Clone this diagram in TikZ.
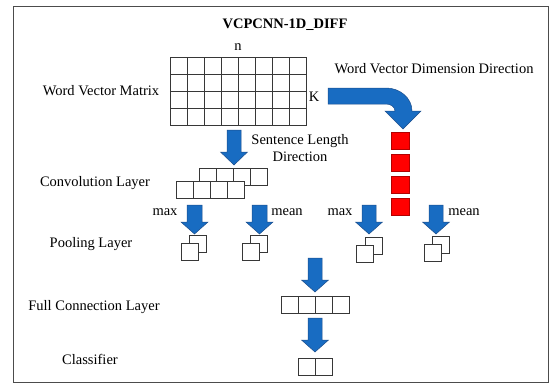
\documentclass[tikz,border=0pt]{standalone}
\usepackage{fontspec}
\setmainfont{Liberation Serif}
\usepackage{tikz}

\definecolor{arrowblue}{RGB}{24,108,194}
\definecolor{arrowedge}{RGB}{28,78,140}
\definecolor{cellgray}{RGB}{55,55,55}

\begin{document}
\begin{tikzpicture}[x=1pt, y=-1pt, every node/.style={font=\fontsize{14.5}{17}\selectfont, inner sep=0pt},
  cell/.style={draw=cellgray, fill=white, line width=0.9pt},
  redcell/.style={draw=red!70!black, fill=red, line width=0.7pt},
  blockarrow/.style={fill=arrowblue, draw=arrowedge, line width=0.5pt}]
  \useasboundingbox (0,0) rectangle (550,383);
  \draw[gray!60!black, line width=0.8pt] (13,6) rectangle (548,382);
  % titles and labels
  \node[font=\fontsize{14.5}{17}\selectfont\bfseries] (title) at (285,25) {VCPCNN-1D\_DIFF};
  \node (nlabel) at (238,47) {n};
  \node (klabel) at (314,97) {K};
  \node (wvm) at (101,91) {Word Vector Matrix};
  \node (wvdd) at (434,69) {Word Vector Dimension Direction};
  \node[align=center] (sld) at (300,148) {Sentence Length\\Direction};
  \node (conv) at (95,183) {Convolution Layer};
  \node (pool) at (91,244) {Pooling Layer};
  \node (full) at (94,307) {Full Connection Layer};
  \node (cls) at (90,359) {Classifier};
  \node (max1) at (165,212) {max};
  \node (mean1) at (287,212) {mean};
  \node (max2) at (340,212) {max};
  \node (mean2) at (464,212) {mean};
  % word vector matrix
  \foreach \i in {0,...,7}
    \foreach \j in {0,...,3}
      \draw[cell] (170+17*\i,57+17*\j) rectangle ++(17,17);
  % convolution layer
  \foreach \i in {0,...,3}
    \draw[cell] (199+17*\i,168) rectangle ++(17,17);
  \foreach \i in {0,...,3}
    \draw[cell] (176+17*\i,181) rectangle ++(17,17);
  % red column
  \foreach \j in {0,...,3}
    \draw[redcell] (391,132+22*\j) rectangle ++(18,17);
  % pooling layer
  \draw[cell] (189,235) rectangle ++(17,17);
  \draw[cell] (181,243) rectangle ++(17,17);
  \draw[cell] (250,235) rectangle ++(17,17);
  \draw[cell] (242,243) rectangle ++(17,17);
  \draw[cell] (365,237) rectangle ++(17,17);
  \draw[cell] (356,245) rectangle ++(17,17);
  \draw[cell] (432,236) rectangle ++(17,17);
  \draw[cell] (424,244) rectangle ++(17,17);
  % full connection and classifier
  \foreach \i in {0,...,3}
    \draw[cell] (281+17*\i,296) rectangle ++(17,17);
  \foreach \i in {0,...,1}
    \draw[cell] (298+17*\i,358) rectangle ++(17,17);
  % block arrows
  \filldraw[blockarrow] (227,130) -- (241,130) -- (241,152) -- (247.5,152) -- (234,165) -- (220.5,152) -- (227,152) -- cycle;
  \filldraw[blockarrow] (187,205) -- (202,205) -- (202,222) -- (208,222) -- (194.5,234) -- (181,222) -- (187,222) -- cycle;
  \filldraw[blockarrow] (252,205) -- (267,205) -- (267,222) -- (273,222) -- (259.5,234) -- (246,222) -- (252,222) -- cycle;
  \filldraw[blockarrow] (362,205) -- (376,205) -- (376,222) -- (382.5,222) -- (369,234) -- (355.5,222) -- (362,222) -- cycle;
  \filldraw[blockarrow] (429,205) -- (443,205) -- (443,222) -- (449.5,222) -- (436,234) -- (422.5,222) -- (429,222) -- cycle;
  \filldraw[blockarrow] (308,258) -- (322,258) -- (322,280) -- (328.5,280) -- (315,292) -- (301.5,280) -- (308,280) -- cycle;
  \filldraw[blockarrow] (308,318) -- (322,318) -- (322,340) -- (328.5,340) -- (315,352) -- (301.5,340) -- (308,340) -- cycle;
  \filldraw[blockarrow] (328,88) -- (386,88) .. controls (400,88) and (412,98) .. (412,111)
    -- (421,111) -- (403,129) -- (385,111) -- (395,111) .. controls (395,107.1) and (391,104) .. (386,104)
    -- (328,104) -- cycle;
\end{tikzpicture}
\end{document}
